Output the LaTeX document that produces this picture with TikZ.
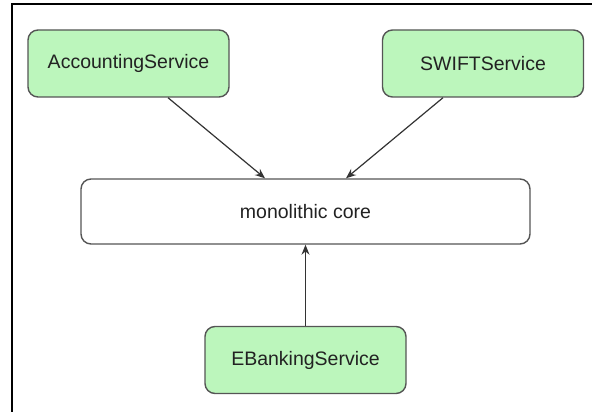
\documentclass[tikz,border=0pt]{standalone}
\usepackage{fontspec}
\setmainfont{Liberation Sans}
\usetikzlibrary{arrows.meta}
\definecolor{boxgreen}{RGB}{188,246,188}
\definecolor{boxline}{RGB}{85,85,85}
\definecolor{txt}{RGB}{34,34,34}
\tikzset{
  svc/.style={draw=boxline, line width=1.4pt, fill=boxgreen, rounded corners=10pt,
    minimum width=201pt, minimum height=67pt, inner sep=0pt, text=txt,
    font=\fontsize{19.5pt}{23pt}\selectfont},
  core/.style={draw=boxline, line width=1.4pt, fill=white, rounded corners=10pt,
    minimum width=449pt, minimum height=65pt, inner sep=0pt, text=txt,
    font=\fontsize{19.5pt}{23pt}\selectfont},
  conn/.style={draw=black!80, line width=1.2pt, -{Stealth[length=10pt,width=8pt]}},
  frameline/.style={draw=black, line width=2pt}
}
\begin{document}
\begin{tikzpicture}[x=1pt,y=1pt]
\useasboundingbox (0,0) rectangle (592,-412);
\draw[frameline] (12.3,-412) -- (12.3,-4) -- (592,-4);
\node[svc] (acc) at (128.5,-63.5) {AccountingService};
\node[svc] (swift) at (483,-63.5) {SWIFTService};
\node[core] (core) at (305.5,-211.5) {monolithic core};
\node[svc] (eb) at (305.5,-360) {EBankingService};
\coordinate (a1) at (168,-97);
\coordinate (a2) at (265,-178.3);
\coordinate (s1) at (443,-97);
\coordinate (s2) at (346,-178.3);
\draw[conn] (acc.south -| a1) -- (a2);
\draw[conn] (swift.south -| s1) -- (s2);
\draw[conn] (eb.north) -- (core.south);
\end{tikzpicture}
\end{document}
